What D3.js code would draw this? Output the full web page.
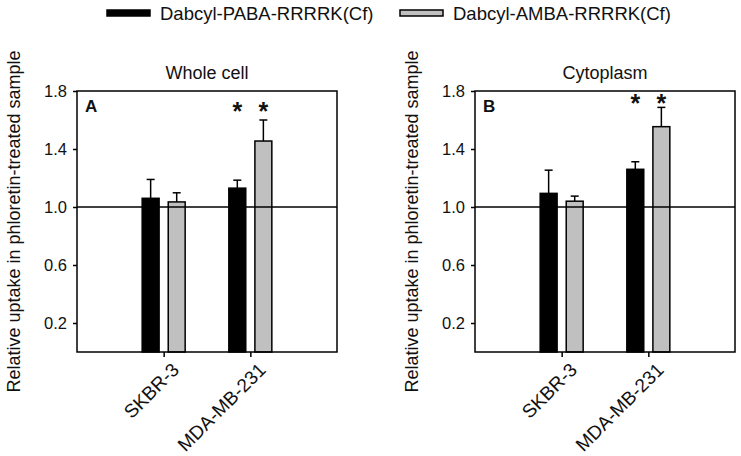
<!DOCTYPE html>
<html><head><meta charset="utf-8">
<script src="https://cdn.jsdelivr.net/npm/d3@7"></script>
<style>body{margin:0;background:#fff;} text{font-family:"Liberation Sans",Arial,sans-serif;fill:#111;}</style>
</head><body>
<svg id="chart" width="741" height="456"></svg>
<script>
const categories = ["SKBR-3", "MDA-MB-231"];
const seriesNames = ["Dabcyl-PABA-RRRRK(Cf)", "Dabcyl-AMBA-RRRRK(Cf)"];
const panelTitles = ["Whole cell", "Cytoplasm"];
const panelLetters = ["A", "B"];
const yTicks = [0.2, 0.6, 1.0, 1.4, 1.8];
const yLabel = "Relative uptake in phloretin-treated sample";
// Panel A (whole cell)
const wholePABA = [1.06, 1.13];
const wholePABAerr = [0.13, 0.055];
const wholeAMBA = [1.035, 1.455];
const wholeAMBAerr = [0.063, 0.145];
const wholeStars = [false, true];
const wholeStarLevel = 1.70;
// Panel B (cytoplasm)
const cytoPABA = [1.094, 1.26];
const cytoPABAerr = [0.16, 0.052];
const cytoAMBA = [1.04, 1.554];
const cytoAMBAerr = [0.035, 0.133];
const cytoStars = [false, true];
const cytoStarLevel = 1.75;

const colors = ["#000000", "#c0c0c0"];
const font = '"Liberation Sans",Arial,sans-serif';
const svg = d3.select("#chart");

const panels = [
  {title: panelTitles[0], letter: panelLetters[0], vals: [wholePABA, wholeAMBA], errs: [wholePABAerr, wholeAMBAerr], stars: wholeStars, starLevel: wholeStarLevel, left: 77},
  {title: panelTitles[1], letter: panelLetters[1], vals: [cytoPABA, cytoAMBA], errs: [cytoPABAerr, cytoAMBAerr], stars: cytoStars, starLevel: cytoStarLevel, left: 475}
];
const pw = 260, plotTop = 91, plotBottom = 352;

panels.forEach(p => {
  const g = svg.append("g").attr("transform", `translate(${p.left},0)`);
  const x = d3.scalePoint().domain(categories).range([0, pw]).padding(1);
  const x1 = d3.scaleBand().domain(seriesNames).range([-21.5, 21.5]).paddingInner(0.35).paddingOuter(0);
  const y = d3.scaleLinear().domain([0, 1.8]).range([plotBottom, plotTop]);

  seriesNames.forEach((s, si) => {
    categories.forEach((c, ci) => {
      const v = p.vals[si][ci], e = p.errs[si][ci];
      const bx = x(c) + x1(s), bw = x1.bandwidth();
      const cx = bx + bw / 2;
      g.append("line").attr("x1", cx).attr("x2", cx).attr("y1", y(v)).attr("y2", y(v + e))
        .attr("stroke", "#000").attr("stroke-width", 1.5);
      g.append("line").attr("x1", cx - 4).attr("x2", cx + 4).attr("y1", y(v + e)).attr("y2", y(v + e))
        .attr("stroke", "#000").attr("stroke-width", 1.5);
      g.append("rect").attr("x", bx).attr("y", y(v)).attr("width", bw).attr("height", y(0) - y(v))
        .attr("fill", colors[si]).attr("stroke", "#000").attr("stroke-width", 1.5);
      if (p.stars[ci]) {
        g.append("text").attr("x", cx).attr("y", y(p.starLevel) + 14)
          .attr("text-anchor", "middle").style("font-size", "25px").style("font-weight", "bold").text("*");
      }
    });
  });

  g.append("line").attr("x1", 0).attr("x2", pw).attr("y1", y(1)).attr("y2", y(1))
    .attr("stroke", "#000").attr("stroke-width", 1.5);

  g.append("rect").attr("x", 0).attr("y", plotTop).attr("width", pw).attr("height", plotBottom - plotTop)
    .attr("fill", "none").attr("stroke", "#000").attr("stroke-width", 1.5);

  const ya = g.append("g").call(d3.axisLeft(y).tickValues(yTicks).tickFormat(d3.format(".1f")).tickSize(4).tickPadding(6));
  ya.select(".domain").remove();
  ya.selectAll("line").attr("stroke", "#000").attr("stroke-width", 1.5);
  ya.selectAll("text").style("font-size", "16.5px").style("font-family", font).attr("fill", "#111");

  const xa = g.append("g").attr("transform", `translate(0,${plotBottom})`).call(d3.axisBottom(x).tickSize(5).tickPadding(4));
  xa.select(".domain").remove();
  xa.selectAll("line").attr("stroke", "#000").attr("stroke-width", 1.5);
  xa.selectAll("text").style("font-size", "19px").style("font-family", font).attr("fill", "#111")
    .attr("text-anchor", "end").attr("dy", "0.35em")
    .attr("transform", "translate(5,8) rotate(-45)");

  g.append("text").attr("x", pw / 2).attr("y", 79).attr("text-anchor", "middle").style("font-size", "18px").text(p.title);
  g.append("text").attr("x", 8).attr("y", 112).style("font-size", "17px").style("font-weight", "bold").text(p.letter);
  g.append("text").attr("transform", `translate(-57,${(plotTop + plotBottom) / 2}) rotate(-90)`)
    .attr("text-anchor", "middle").style("font-size", "18px").text(yLabel);
});

const legendX = [107, 400];
seriesNames.forEach((s, i) => {
  svg.append("rect").attr("x", legendX[i]).attr("y", 10).attr("width", 43).attr("height", 6)
    .attr("fill", colors[i]).attr("stroke", "#000").attr("stroke-width", 1.5);
  svg.append("text").attr("x", legendX[i] + 53).attr("y", 20).style("font-size", "18.5px").text(s);
});
</script>
</body></html>
